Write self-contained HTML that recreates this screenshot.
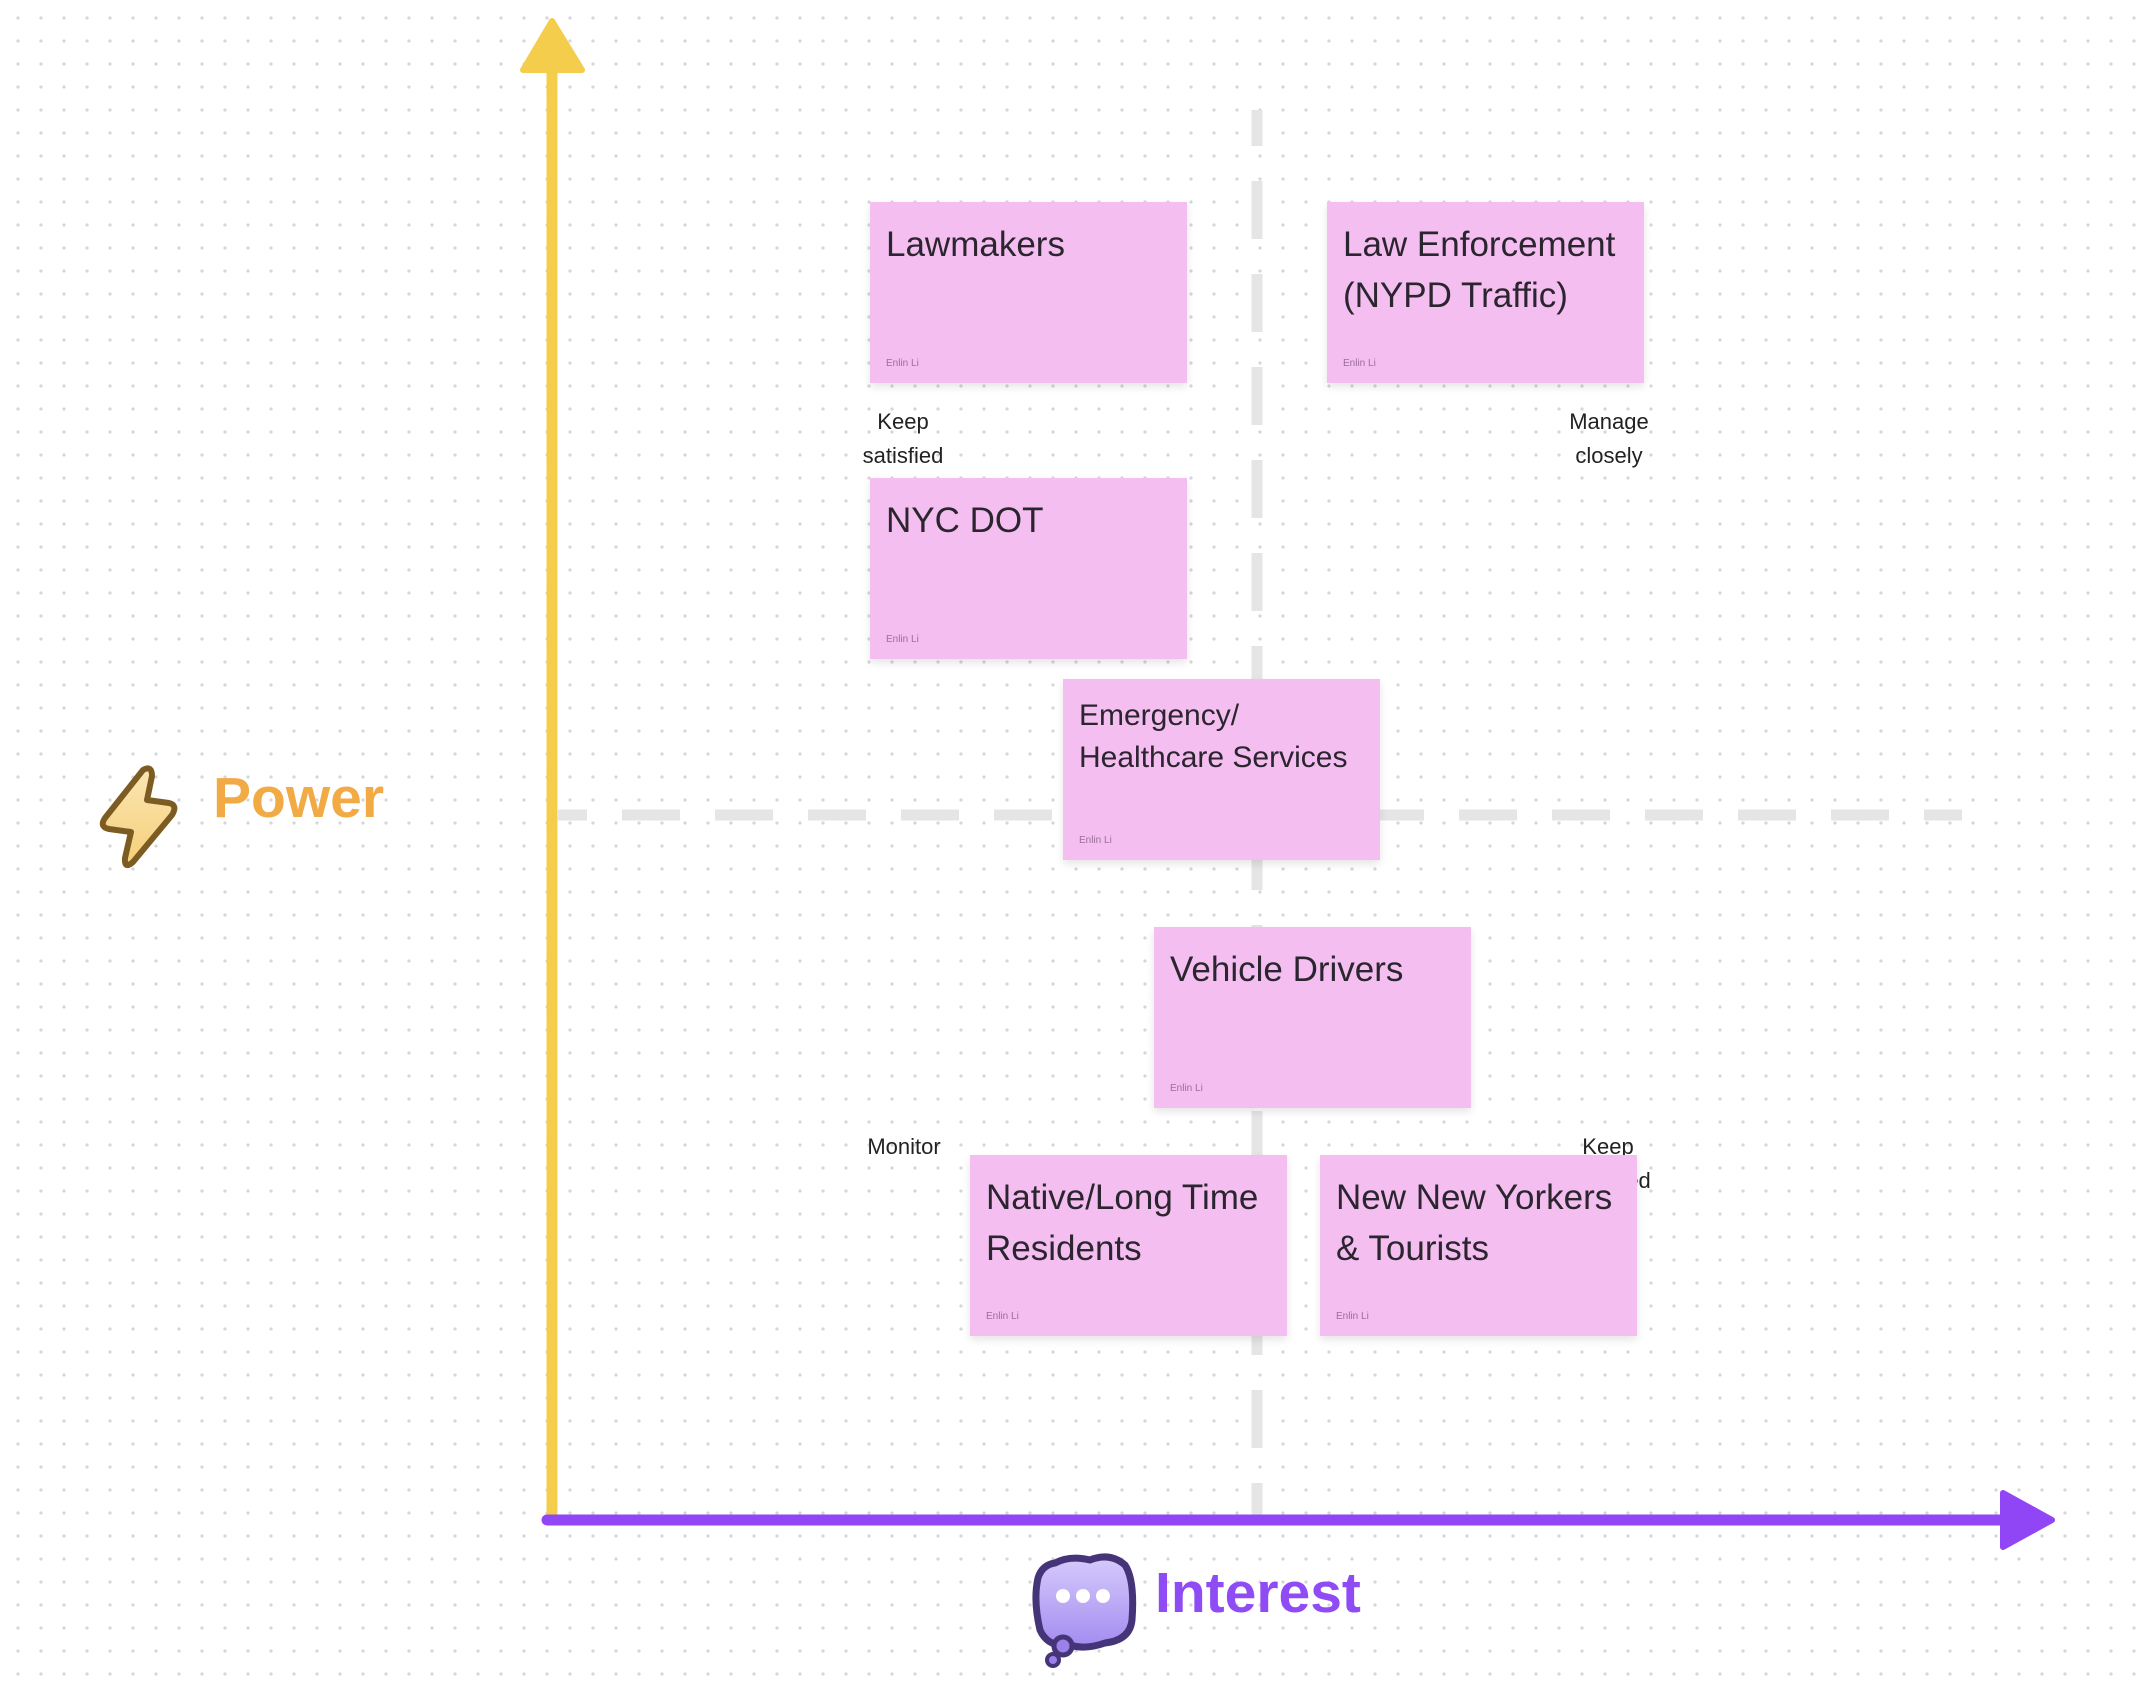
<!DOCTYPE html>
<html><head><meta charset="utf-8"><style>
html,body{margin:0;padding:0}
body{width:2154px;height:1688px;position:relative;overflow:hidden;background:#fff;font-family:"Liberation Sans",sans-serif}
.s{position:absolute;width:317px;height:181px;background:#f4bff0;box-shadow:0 4px 8px rgba(0,0,0,0.10);box-sizing:border-box;padding:17px 16px 0 16px;color:#2b2530;font-size:35px;line-height:51px}
.s .a{position:absolute;left:16px;top:156px;font-size:10px;line-height:12px;color:#9a6e96}
.l{position:absolute;font-size:22px;line-height:34px;color:#222;text-align:center;width:160px}
</style></head><body>
<svg width="2154" height="1688" style="position:absolute;left:0;top:0">
<defs><pattern id="d" x="7" y="7" width="23" height="23" patternUnits="userSpaceOnUse"><circle cx="11" cy="11" r="1.6" fill="#d6d6d6"/></pattern></defs>
<rect width="2154" height="1688" fill="url(#d)"/>
<line x1="1257" y1="110" x2="1257" y2="1518" stroke="#e5e5e5" stroke-width="11" stroke-dasharray="58 35" stroke-dashoffset="22"/>
<line x1="558" y1="815" x2="1962" y2="815" stroke="#e5e5e5" stroke-width="11" stroke-dasharray="58 35" stroke-dashoffset="29"/>
<line x1="552" y1="60" x2="552" y2="1520" stroke="#f5cd4c" stroke-width="11"/>
<path d="M552 21 L582 70 L523 70 Z" fill="#f5cd4c" stroke="#f5cd4c" stroke-width="6" stroke-linejoin="round"/>
<line x1="547" y1="1520" x2="2010" y2="1520" stroke="#9146f5" stroke-width="11" stroke-linecap="round"/>
<path d="M2003 1493 L2052 1520 L2003 1547 Z" fill="#9146f5" stroke="#9146f5" stroke-width="6" stroke-linejoin="round"/>
<defs><linearGradient id="lg" x1="0" y1="0" x2="0" y2="1"><stop offset="0" stop-color="#fbe6b4"/><stop offset="1" stop-color="#f6cf78"/></linearGradient>
<linearGradient id="ig" x1="0" y1="0" x2="0" y2="1"><stop offset="0" stop-color="#d6cafc"/><stop offset="1" stop-color="#a38cf0"/></linearGradient></defs>
<path d="M143 770 Q152 765 152 776 L147 800 L169 803 Q178 805 172 815 L133 862 Q124 870 125 858 L131 832 L109 829 Q99 827 105 818 Z" fill="url(#lg)" stroke="#7c5c22" stroke-width="6" stroke-linejoin="round"/>
<path d="M1055 1563 Q1070 1555 1090 1560 Q1110 1552 1125 1565 Q1135 1580 1132 1620 Q1130 1640 1105 1643 Q1085 1650 1070 1645 Q1048 1648 1040 1630 Q1033 1600 1038 1578 Q1042 1565 1055 1563 Z" fill="url(#ig)" stroke="#463478" stroke-width="7" stroke-linejoin="round"/>
<circle cx="1063" cy="1646" r="9" fill="#9a80e8" stroke="#463478" stroke-width="5"/>
<circle cx="1053" cy="1660" r="6" fill="#9a80e8" stroke="#463478" stroke-width="4"/>
<circle cx="1063" cy="1596" r="7" fill="#fff"/><circle cx="1083" cy="1596" r="7" fill="#fff"/><circle cx="1103" cy="1596" r="7" fill="#fff"/>
</svg>
<div style="position:absolute;left:213px;top:763px;font-size:57px;font-weight:bold;color:#f2aa45;line-height:70px">Power</div>
<div style="position:absolute;left:1155px;top:1559px;font-size:57px;font-weight:bold;color:#8f4cf5;line-height:68px">Interest</div>

<div class="l" style="left:823px;top:405px">Keep<br>satisfied</div>
<div class="l" style="left:1529px;top:405px">Manage<br>closely</div>
<div class="l" style="left:824px;top:1130px">Monitor</div>
<div class="l" style="left:1528px;top:1130px">Keep<br>informed</div>

<div class="s" style="left:870px;top:202px">Lawmakers<div class="a">Enlin Li</div></div>
<div class="s" style="left:1327px;top:202px">Law Enforcement<br>(NYPD Traffic)<div class="a">Enlin Li</div></div>
<div class="s" style="left:870px;top:478px">NYC DOT<div class="a">Enlin Li</div></div>
<div class="s" style="left:1063px;top:679px;font-size:30px;line-height:42px;padding-top:16px">Emergency/<br>Healthcare Services<div class="a">Enlin Li</div></div>
<div class="s" style="left:1154px;top:927px">Vehicle Drivers<div class="a">Enlin Li</div></div>
<div class="s" style="left:970px;top:1155px">Native/Long Time<br>Residents<div class="a">Enlin Li</div></div>
<div class="s" style="left:1320px;top:1155px">New New Yorkers<br>&amp; Tourists<div class="a">Enlin Li</div></div>
</body></html>
